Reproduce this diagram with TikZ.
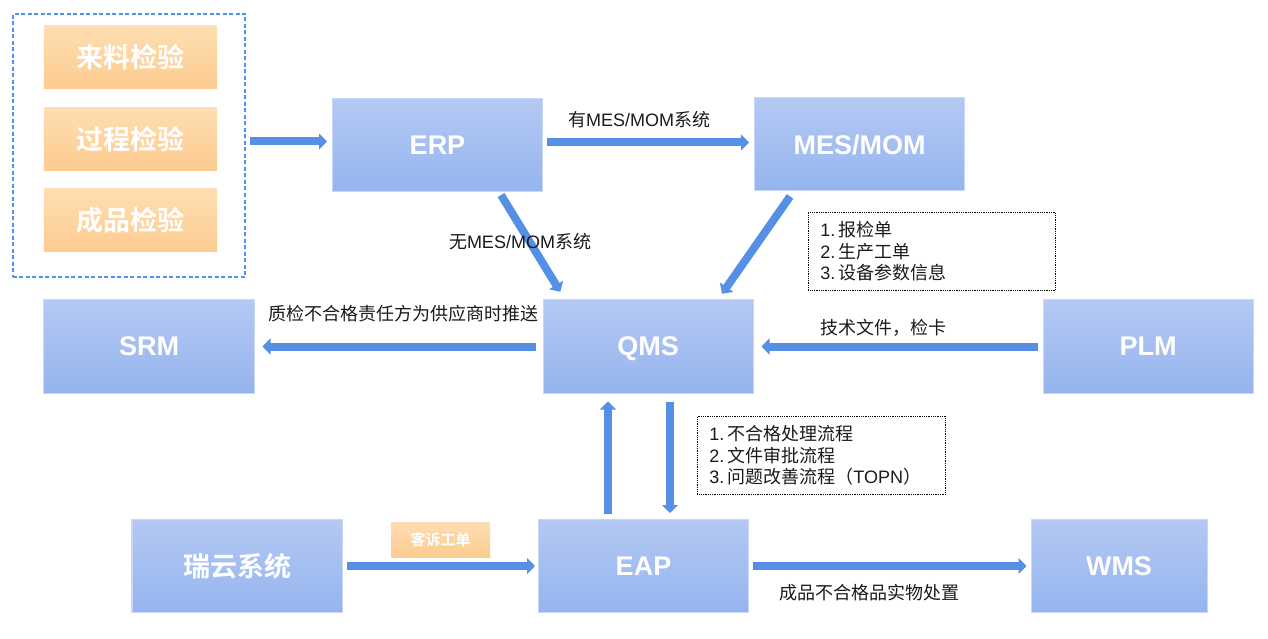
\documentclass[tikz,border=0pt]{standalone}
\usepackage{fontspec}
\setmainfont{Liberation Sans}
\newfontfamily\cjk{Noto Sans CJK SC}[BoldFont={Noto Sans CJK SC Bold}]
\usetikzlibrary{arrows.meta}
\definecolor{boxtop}{HTML}{B4C9F3}
\definecolor{boxbot}{HTML}{95B4EE}
\definecolor{boxline}{HTML}{C8D7F5}
\definecolor{orgtop}{HTML}{FEDEB2}
\definecolor{orgbot}{HTML}{FDCB8F}
\definecolor{flowblue}{HTML}{5590E6}
\definecolor{dashblue}{HTML}{4F93EE}
\definecolor{txt}{HTML}{1A1A1A}
\begin{document}
\begin{tikzpicture}[x=1bp,y=-1bp,
	sysbox/.style={minimum width=210bp,minimum height=93bp,inner sep=0pt,
		top color=boxtop,bottom color=boxbot,draw=boxline,line width=1bp,
		text=white,font=\fontsize{27bp}{30bp}\selectfont\bfseries},
	insbox/.style={minimum width=173bp,minimum height=63bp,inner sep=0pt,
		top color=orgtop,bottom color=orgbot,text=white,
		font=\fontsize{27bp}{30bp}\selectfont\cjk\bfseries},
	tagbox/.style={insbox,minimum width=99bp,minimum height=35bp,
		font=\fontsize{15bp}{17bp}\selectfont\cjk\bfseries},
	flow/.style={draw=flowblue,line width=8bp,-{Triangle[width=16bp,length=8bp]}},
	lbl/.style={inner sep=0pt,text=txt,font=\fontsize{18bp}{21bp}\selectfont},
	note/.style={draw=black,densely dotted,line width=0.8bp,inner xsep=12bp,inner ysep=2bp,
		minimum height=78bp,align=left,text=txt,font=\fontsize{18bp}{21.7bp}\selectfont}]
	\useasboundingbox (0,0) rectangle (1268,639);
	% inspection group
	\node[draw=dashblue,dash pattern=on 4bp off 2.5bp,line width=1.2bp,
		minimum width=232bp,minimum height=263bp] (inspect) at (129,145.5) {};
	\foreach \t/\y [count=\i] in {来料检验/57.5,过程检验/139,成品检验/220.5}
		\node[insbox] (ins\i) at (130.5,\y) {\t};
	% systems
	\node[sysbox] (erp) at (437.5,145.5) {ERP};
	\node[sysbox] (mes) at (859.5,144.5) {MES/MOM};
	\node[sysbox] (srm) at (149,346.5) {SRM};
	\node[sysbox,text depth=0pt] (qms) at (648,346.5) {QMS};
	\node[sysbox] (plm) at (1148,346.5) {PLM};
	\node[sysbox] (ruiyun) at (237,566) {\cjk 瑞云系统};
	\node[sysbox] (eap) at (643.5,566) {EAP};
	\node[sysbox,minimum width=176bp] (wms) at (1119,566) {WMS};
	% arrows
	\draw[flow,shorten <=4bp,shorten >=5bp] ([yshift=4bp]inspect.east) -- ([yshift=4bp]inspect.east -| erp.west);
	\draw[flow,shorten <=4bp,shorten >=5bp] ([yshift=3bp]erp.east) -- ([yshift=3bp]erp.east -| mes.west);
	\draw[flow,shorten <=3bp,shorten >=9bp] ([xshift=62bp]erp.south) -- ([xshift=-83bp]qms.north);
	\draw[flow,shorten <=6bp,shorten >=7bp] ([xshift=-66bp]mes.south) -- ([xshift=70bp]qms.north);
	\draw[flow,shorten <=7bp,shorten >=8bp] (qms.west) -- (srm.east);
	\draw[flow,shorten <=5bp,shorten >=8bp] (plm.west) -- (qms.east);
	\draw[flow,shorten <=5bp,shorten >=8bp] ([xshift=-35.5bp]eap.north) -- ([xshift=-35.5bp]eap.north |- qms.south);
	\draw[flow,shorten <=8bp,shorten >=6bp] ([xshift=22bp]qms.south) -- ([xshift=22bp]qms.south |- eap.north);
	\draw[flow,shorten <=4bp,shorten >=3bp] (ruiyun.east) -- (eap.west);
	\draw[flow,shorten <=4bp,shorten >=4bp] (eap.east) -- (wms.west);
	% labels
	\node[lbl] (lblhas) at (639,120) {{\cjk 有}MES/MOM{\cjk 系统}};
	\node[lbl] (lblno) at (520,242) {{\cjk 无}MES/MOM{\cjk 系统}};
	\node[lbl] (lblsrm) at (403,314) {\cjk 质检不合格责任方为供应商时推送};
	\node[lbl] (lblplm) at (883,328) {\cjk 技术文件，检卡};
	\node[lbl] (lblwms) at (869,593) {\cjk 成品不合格品实物处置};
	\node[tagbox] (tag) at (440.5,539.5) {客诉工单};
	\node[note,text width=223bp,anchor=north west] (note1) at (808,212)
		{1.\hspace{3bp}{\cjk 报检单}\\2.\hspace{3bp}{\cjk 生产工单}\\3.\hspace{3bp}{\cjk 设备参数信息}};
	\node[note,text width=224bp,anchor=north west] (note2) at (697,416)
		{1.\hspace{3bp}{\cjk 不合格处理流程}\\2.\hspace{3bp}{\cjk 文件审批流程}\\3.\hspace{3bp}{\cjk 问题改善流程（}TOPN{\cjk ）}};
\end{tikzpicture}
\end{document}
